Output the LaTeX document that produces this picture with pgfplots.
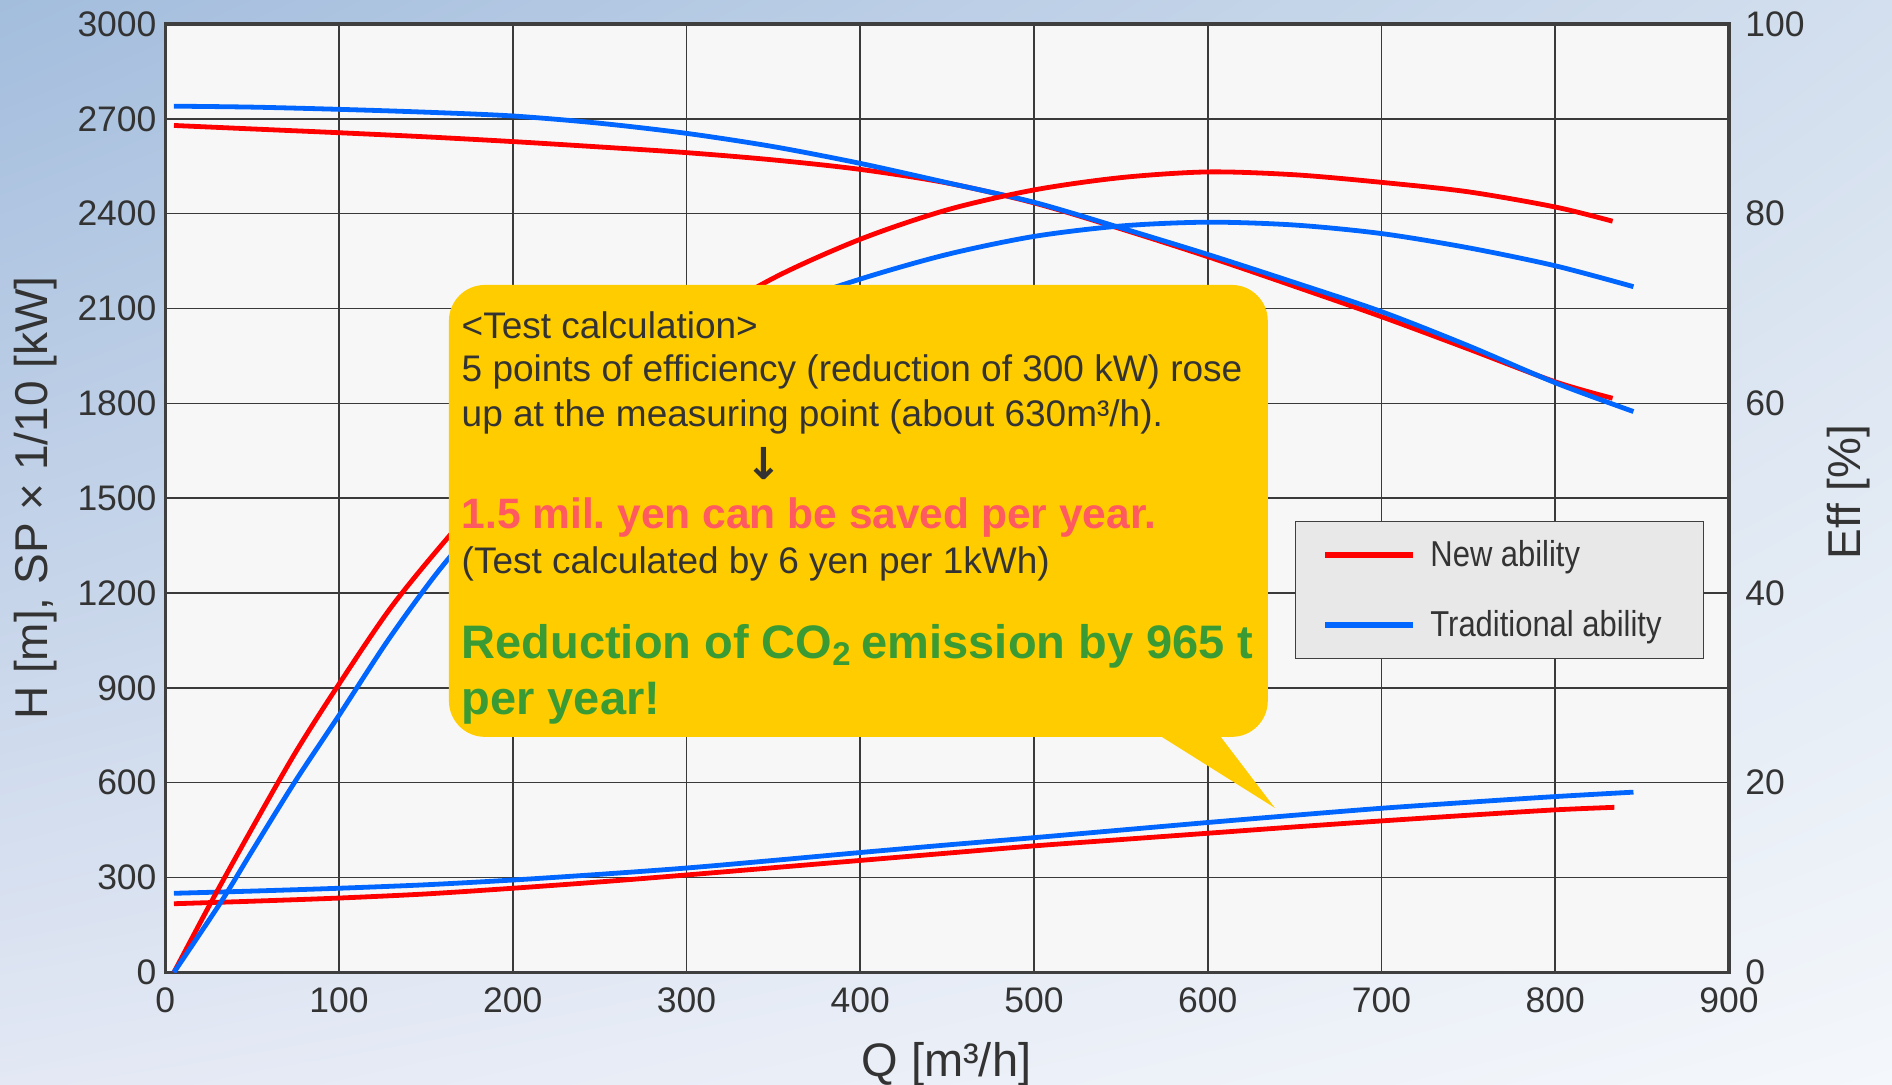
\documentclass[border=0pt]{standalone}
\usepackage{fontspec}
\setmainfont{Liberation Sans}
\newfontfamily\narrowfont[FakeStretch=0.86]{Liberation Sans}
\newfontfamily\arrowfont{DejaVu Sans}
\usepackage{pgfplots}
\pgfplotsset{compat=1.18}
\usetikzlibrary{shadings}
\frenchspacing
\definecolor{txt}{HTML}{333333}
\definecolor{framec}{HTML}{3F3F3F}
\definecolor{gridc}{HTML}{3A3A3A}
\definecolor{newred}{HTML}{FF0000}
\definecolor{oldblue}{HTML}{0066FF}
\definecolor{plotbg}{HTML}{F7F7F7}
\definecolor{legbg}{HTML}{E8E8E8}
\definecolor{calloutc}{HTML}{FFCC00}
\definecolor{savered}{HTML}{FF5A5F}
\definecolor{co2green}{HTML}{3A9B34}
\definecolor{bgUL}{HTML}{A3BDDD}
\definecolor{bgUR}{HTML}{D3DFEE}
\definecolor{bgLL}{HTML}{E3E8F4}
\definecolor{bgLR}{HTML}{F4F7FB}
\begin{document}
\begin{tikzpicture}
\shade[upper left=bgUL, upper right=bgUR, lower left=bgLL, lower right=bgLR] (-82.65pt,-56.25pt) rectangle (863.5pt,486.25pt);

\begin{axis}[
  scale only axis, width=782pt, height=474.25pt,
  at={(0pt,0pt)}, anchor=south west,
  xmin=0, xmax=900, ymin=0, ymax=3000,
  xtick={0,100,...,900}, ytick={0,300,...,3000},
  grid=major, major grid style={draw=gridc, line width=0.8pt},
  major tick length=0pt,
  axis line style={draw=framec, line width=1.7pt},
  axis background/.style={fill=plotbg},
  /pgf/number format/assume math mode=true,
  /pgf/number format/1000 sep={},
  ticklabel style={font=\fontsize{17.75}{17.75}\selectfont, text=txt},
  xticklabel style={yshift=-4pt},
  yticklabel style={inner sep=0pt, xshift=-4.2pt},
  xlabel={Q [m³/h]},
  xlabel style={at={(axis description cs:0.4995,-0.1099)}, anchor=base, font=\fontsize{23.5}{23.5}\selectfont, text=txt},
  ylabel={H [m], SP × 1/10 [kW]},
  ylabel style={at={(axis description cs:-0.0827,0.5)}, anchor=center, font=\fontsize{23}{23}\selectfont, text=txt},
  legend style={at={(0.7223,0.476)}, anchor=north west, draw=framec, line width=0.7pt, fill=legbg,
    inner xsep=13.5pt, inner ysep=7.6pt, row sep=16.3pt,
    font=\narrowfont\fontsize{18}{21}\selectfont, text=txt,
    /tikz/every odd column/.append style={column sep=5pt}},
  legend cell align=left,
  legend image code/.code={\draw[#1, line width=3pt] (0pt,0pt) -- (44pt,0pt);},
]
% Head H (new / traditional)
\addplot[newred, line width=2.4pt, smooth] coordinates {
(5,2679) (50,2668) (100,2656) (150,2643) (200,2628) (250,2611) (300,2593) (350,2570)
(400,2540) (450,2497) (500,2434) (550,2352) (600,2264) (650,2170) (700,2074)
(750,1972) (800,1868) (833,1816)};
\addplot[oldblue, line width=2.4pt, smooth] coordinates {
(5,2740) (50,2737) (100,2730) (150,2721) (200,2709) (250,2686) (300,2654) (350,2612)
(400,2559) (450,2498) (500,2436) (550,2355) (600,2271) (650,2182) (700,2090)
(750,1982) (800,1865) (845,1774)};
% Shaft power SP x 1/10
\addplot[newred, line width=2.4pt, smooth, forget plot] coordinates {
(5,217) (50,225) (100,235) (150,248) (200,266) (250,286) (300,308) (350,331) (400,354)
(450,377) (500,400) (550,420) (600,440) (650,460) (700,479) (750,497) (800,514) (834,522)};
\addplot[oldblue, line width=2.4pt, smooth, forget plot] coordinates {
(5,250) (50,257) (100,266) (150,277) (200,292) (250,310) (300,330) (350,354) (400,379)
(450,403) (500,426) (550,450) (600,474) (650,497) (700,519) (750,538) (800,556) (845,570)};
\legend{New ability, Traditional ability\rule{5.6pt}{0pt}}
\end{axis}

\begin{axis}[
  scale only axis, width=782pt, height=474.25pt,
  at={(0pt,0pt)}, anchor=south west,
  xmin=0, xmax=900, ymin=0, ymax=100,
  axis x line=none, axis y line*=right,
  y axis line style={draw=none},
  ytick={0,20,...,100}, major tick length=0pt,
  /pgf/number format/assume math mode=true,
  ticklabel style={font=\fontsize{17.75}{17.75}\selectfont, text=txt},
  yticklabel style={inner sep=0pt, xshift=8pt},
  ylabel={Eff [\%]},
  ylabel style={at={(axis description cs:1.0762,0.5066)}, anchor=center, font=\fontsize{23}{23}\selectfont, text=txt},
]
\addplot[newred, line width=2.4pt, smooth] coordinates {
(5,0) (27,7.6) (50,15.2) (75,23.2) (100,30.4) (130,38.5) (162,45.7) (200,53.5) (250,61.5)
(300,67.8) (350,73.2) (400,77.3) (450,80.4) (500,82.5) (550,83.8) (600,84.4)
(650,84.1) (700,83.3) (750,82.3) (800,80.7) (833,79.2)};
\addplot[oldblue, line width=2.4pt, smooth] coordinates {
(5,0) (32,7.4) (50,12.8) (75,20.2) (100,27.1) (130,35.5) (162,43.4) (200,51.0) (250,59.0)
(300,65.3) (350,69.9) (400,73.1) (450,75.7) (500,77.6) (550,78.7) (600,79.1) (650,78.8)
(700,77.9) (750,76.4) (800,74.5) (845,72.3)};
\end{axis}

% callout
\fill[calloutc, rounded corners=18pt] (141.85pt,117.75pt) rectangle (551.35pt,343.75pt);
\fill[calloutc] (496.35pt,119pt) -- (554.85pt,82.25pt) -- (526.85pt,119pt) -- cycle;
\node[anchor=base west, inner sep=0pt, text=txt, font=\fontsize{18.5}{18.5}\selectfont] at (148.05pt,317.1pt) {<Test calculation>};
\node[anchor=base west, inner sep=0pt, text=txt, font=\fontsize{18.5}{18.5}\selectfont] at (148.05pt,295.25pt) {5 points of efficiency (reduction of 300 kW) rose};
\node[anchor=base west, inner sep=0pt, text=txt, font=\fontsize{18.5}{18.5}\selectfont] at (148.05pt,272.9pt) {up at the measuring point (about 630m³/h).};
\node[anchor=north, inner sep=0pt, text=txt, font=\arrowfont\bfseries\fontsize{22}{22}\selectfont] at (299.35pt,262.75pt) {↓};
\node[anchor=base west, inner sep=0pt, text=savered, font=\bfseries\fontsize{21.25}{21.25}\selectfont] at (148.05pt,222.1pt) {1.5 mil. yen can be saved per year.};
\node[anchor=base west, inner sep=0pt, text=txt, font=\fontsize{18.5}{18.5}\selectfont] at (148.05pt,199.6pt) {(Test calculated by 6 yen per 1kWh)};
\node[anchor=base west, inner sep=0pt, text=co2green, font=\bfseries\fontsize{23.5}{23.5}\selectfont] at (148.05pt,157.1pt) {Reduction of CO\textsubscript{2}\kern-1.5pt{} emission by 965 t};
\node[anchor=base west, inner sep=0pt, text=co2green, font=\bfseries\fontsize{23.5}{23.5}\selectfont] at (148.05pt,128.75pt) {per year!};

\pgfresetboundingbox
\path[use as bounding box] (-82.65pt,-56.25pt) rectangle (863.5pt,486.25pt);
\end{tikzpicture}
\end{document}
